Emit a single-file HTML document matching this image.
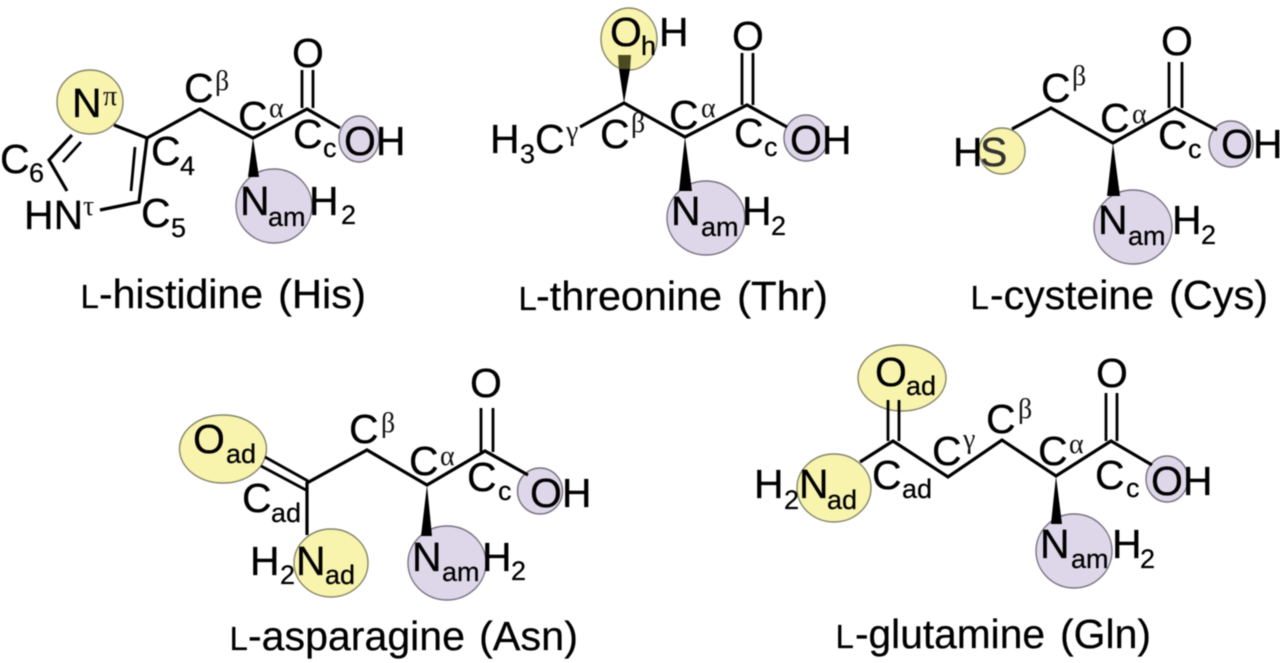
<!DOCTYPE html>
<html><head><meta charset="utf-8"><title>Amino acids</title>
<style>
html,body{margin:0;padding:0;background:#fff;width:1280px;height:663px;overflow:hidden}
svg{display:block;filter:blur(.45px)}
text{font-family:"Liberation Sans",sans-serif;font-size:41px;fill:#000;stroke:#000;stroke-width:.25px}
.s{font-size:27px}
.g{font-family:"Liberation Serif",serif;font-size:28px;fill:#111;stroke:none}
.l{font-size:33px}
.y{fill:#f8f4ae;stroke:#85856a;stroke-width:1.4}
.p{fill:#ded7e9;stroke:#77717f;stroke-width:1.4}
.b{fill:none;stroke:#000;stroke-width:3.2;stroke-linejoin:miter}
.d{fill:none;stroke:#000;stroke-width:2.8}
.w{fill:#000;stroke:none}
</style></head><body>
<svg width="1280" height="663" viewBox="0 0 1280 663" xmlns="http://www.w3.org/2000/svg">
<rect width="1280" height="663" fill="#fff"/>

<!-- Histidine -->
<ellipse class="y" cx="90" cy="102" rx="33" ry="32"/>
<ellipse class="p" cx="359" cy="139" rx="20" ry="23"/>
<ellipse class="p" cx="274" cy="206" rx="38" ry="37"/>
<polyline class="b" points="114,125 147,138 200,109 253,138 307,109 340,128"/>
<polyline class="b" points="147,138 139,202 100,210"/>
<line class="d" x1="135" y1="147" x2="131" y2="191"/>
<polyline class="b" points="72,135 49,160 67,191"/>
<line class="d" x1="63" y1="162" x2="81" y2="142"/>
<line class="d" x1="302" y1="70" x2="302" y2="108"/>
<line class="d" x1="313" y1="70" x2="313" y2="108"/>
<polygon class="w" points="253,138 248,177 259,177"/>
<text x="72" y="117">N</text><text class="g" x="103" y="105">π</text>
<text x="184" y="102">C</text><text class="g" x="215" y="90">β</text>
<text x="238" y="130">C</text><text class="g" x="269" y="117">α</text>
<text x="292" y="67">O</text>
<text x="293" y="148">C</text><text class="s" x="323" y="157">c</text>
<text x="344" y="155">OH</text>
<text x="151" y="165">C</text><text class="s" x="180" y="175">4</text>
<text x="0" y="173">C</text><text class="s" x="29" y="182">6</text>
<text x="24" y="229">HN</text><text class="g" x="83" y="215">τ</text>
<text x="141" y="227">C</text><text class="s" x="171" y="237">5</text>
<text x="240" y="215">N</text><text class="s" x="268" y="226">am</text>
<text x="309" y="215">H</text><text class="s" x="341" y="224">2</text>
<text class="l" x="80.5" y="308">L</text>
<text x="99" y="308" textLength="164" lengthAdjust="spacingAndGlyphs">-histidine</text>
<text x="278" y="308" textLength="88" lengthAdjust="spacingAndGlyphs">(His)</text>

<!-- Threonine -->
<ellipse class="y" cx="629" cy="39" rx="28" ry="31"/>
<ellipse class="p" cx="806" cy="138" rx="22" ry="23"/>
<ellipse class="p" cx="706" cy="218" rx="39" ry="37"/>
<polyline class="b" points="580,127 624,103 685,137 747,105 787,127"/>
<line class="d" x1="742" y1="53" x2="742" y2="105"/>
<line class="d" x1="753" y1="53" x2="753" y2="105"/>
<polygon fill="#4c4a20" points="618,55 631,55 630,70 619,70"/>
<polygon class="w" points="624,103 619,69 630,69"/>
<polygon class="w" points="685,137 679,191 692,191"/>
<text x="610" y="46">O</text><text class="s" x="641" y="55">h</text><text x="659" y="46">H</text>
<text x="732" y="50">O</text>
<text x="490" y="153">H</text><text class="s" x="520" y="163">3</text><text x="535" y="153">C</text><text class="g" x="566" y="140">γ</text>
<text x="600" y="148">C</text><text class="g" x="631" y="132">β</text>
<text x="669" y="129">C</text><text class="g" x="701" y="117">α</text>
<text x="734" y="147">C</text><text class="s" x="764" y="156">c</text>
<text x="790" y="154">OH</text>
<text x="671" y="225">N</text><text class="s" x="701" y="236">am</text>
<text x="742" y="225">H</text><text class="s" x="771" y="235">2</text>
<text class="l" x="518.5" y="310">L</text>
<text x="536" y="310" textLength="186" lengthAdjust="spacingAndGlyphs">-threonine</text>
<text x="737" y="310" textLength="91" lengthAdjust="spacingAndGlyphs">(Thr)</text>

<!-- Cysteine -->
<ellipse class="y" cx="1002" cy="151" rx="23" ry="23"/>
<ellipse class="p" cx="1231" cy="144" rx="22" ry="23"/>
<ellipse class="p" cx="1133" cy="227" rx="39" ry="37"/>
<polyline class="b" points="1012,129 1051,108 1113,143 1175,108 1217,130"/>
<line class="d" x1="1169" y1="62" x2="1169" y2="108"/>
<line class="d" x1="1182" y1="62" x2="1182" y2="108"/>
<polygon class="w" points="1113,143 1107,196 1120,196"/>
<text x="953" y="166">H</text><text x="980" y="166" style="fill:#333">S</text>
<text x="1161" y="55">O</text>
<text x="1041" y="102">C</text><text class="g" x="1072" y="85">β</text>
<text x="1100" y="132">C</text><text class="g" x="1132" y="123">α</text>
<text x="1158" y="149">C</text><text class="s" x="1188" y="158">c</text>
<text x="1221" y="158">OH</text>
<text x="1098" y="234">N</text><text class="s" x="1128" y="245">am</text>
<text x="1172" y="234">H</text><text class="s" x="1201" y="244">2</text>
<text class="l" x="970.5" y="309">L</text>
<text x="990" y="309" textLength="164" lengthAdjust="spacingAndGlyphs">-cysteine</text>
<text x="1169" y="309" textLength="99" lengthAdjust="spacingAndGlyphs">(Cys)</text>

<!-- Asparagine -->
<ellipse class="y" cx="223" cy="449" rx="43.5" ry="34"/>
<ellipse class="y" cx="331" cy="563" rx="37" ry="34"/>
<ellipse class="p" cx="540" cy="491" rx="22.5" ry="23"/>
<ellipse class="p" cx="447" cy="563" rx="39" ry="37"/>
<line class="d" x1="265" y1="457" x2="308" y2="481"/>
<line class="d" x1="261" y1="466" x2="306" y2="490"/>
<polyline class="b" points="307,535 307,483 367,450 427,485 485,451 528,475"/>
<line class="d" x1="481" y1="408" x2="481" y2="452"/>
<line class="d" x1="493" y1="408" x2="493" y2="452"/>
<polygon class="w" points="427,485 421,536 432,536"/>
<text x="193" y="453">O</text><text class="s" x="226" y="463">ad</text>
<text x="242" y="512">C</text><text class="s" x="271" y="522">ad</text>
<text x="349" y="443">C</text><text class="g" x="381" y="432">β</text>
<text x="409" y="475">C</text><text class="g" x="440" y="465">α</text>
<text x="470" y="397">O</text>
<text x="467" y="491">C</text><text class="s" x="498" y="500">c</text>
<text x="530" y="507">OH</text>
<text x="250" y="575">H</text><text class="s" x="280" y="584">2</text><text x="296" y="575">N</text><text class="s" x="325" y="584">ad</text>
<text x="412" y="571">N</text><text class="s" x="442" y="581">am</text>
<text x="482" y="571">H</text><text class="s" x="511" y="580">2</text>
<text class="l" x="229.5" y="650">L</text>
<text x="248" y="650" textLength="217" lengthAdjust="spacingAndGlyphs">-asparagine</text>
<text x="479" y="650" textLength="99" lengthAdjust="spacingAndGlyphs">(Asn)</text>

<!-- Glutamine -->
<ellipse class="y" cx="902" cy="378" rx="44" ry="33"/>
<ellipse class="y" cx="834" cy="488" rx="37" ry="34"/>
<ellipse class="p" cx="1167" cy="479" rx="21" ry="23"/>
<ellipse class="p" cx="1074" cy="551" rx="38" ry="37"/>
<line class="d" x1="888" y1="400" x2="888" y2="441"/>
<line class="d" x1="899" y1="400" x2="899" y2="441"/>
<polyline class="b" points="860,462 893,441 948,477 1002,440 1056,476 1111,441 1152,465"/>
<line class="d" x1="1106" y1="393" x2="1106" y2="441"/>
<line class="d" x1="1117" y1="393" x2="1117" y2="441"/>
<polygon class="w" points="1056,476 1051,524 1062,524"/>
<text x="875" y="386">O</text><text class="s" x="906" y="395">ad</text>
<text x="1096" y="387">O</text>
<text x="754" y="498">H</text><text class="s" x="784" y="509">2</text><text x="799" y="498">N</text><text class="s" x="827" y="509">ad</text>
<text x="872" y="489">C</text><text class="s" x="902" y="498">ad</text>
<text x="932" y="465">C</text><text class="g" x="963" y="448">γ</text>
<text x="986" y="433">C</text><text class="g" x="1018" y="418">β</text>
<text x="1038" y="465">C</text><text class="g" x="1069" y="453">α</text>
<text x="1095" y="489">C</text><text class="s" x="1126" y="497">c</text>
<text x="1151" y="495">OH</text>
<text x="1040" y="558">N</text><text class="s" x="1071" y="568">am</text>
<text x="1112" y="558">H</text><text class="s" x="1140" y="568">2</text>
<text class="l" x="835.5" y="648">L</text>
<text x="855" y="648" textLength="190" lengthAdjust="spacingAndGlyphs">-glutamine</text>
<text x="1060" y="648" textLength="91" lengthAdjust="spacingAndGlyphs">(Gln)</text>
</svg>
</body></html>
